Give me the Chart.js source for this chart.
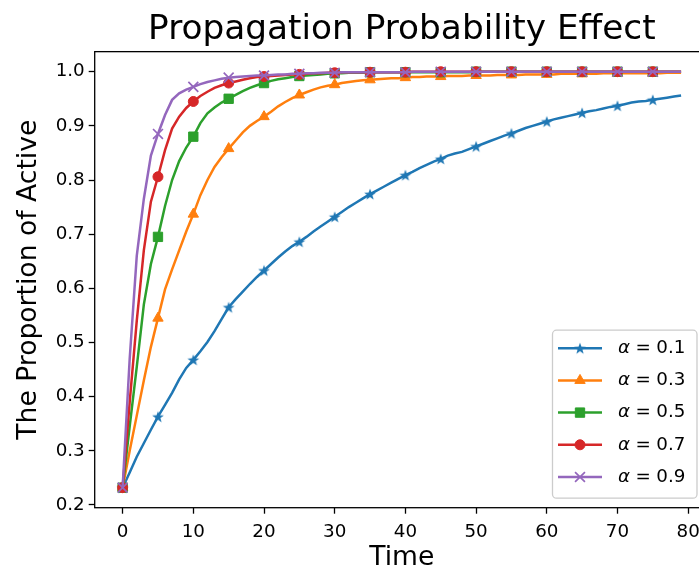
<!DOCTYPE html>
<html lang="en">
<head>
<meta charset="UTF-8">
<title>Propagation Probability Effect</title>
<script src="https://cdn.jsdelivr.net/npm/chart.js"></script>
<style>
  body { margin: 0; background: #fff; }
  #wrap { width: 699px; height: 571px; overflow: hidden; }
</style>
</head>
<body>
<div id="wrap"><canvas id="myChart" width="720" height="571"></canvas></div>
<script>
// time steps 0..79, markers every 5 steps
const timeSteps = [
  0, 1, 2, 3, 4, 5, 6, 7, 8, 9, 10, 11, 12, 13, 14, 15, 16, 17, 18, 19,
  20, 21, 22, 23, 24, 25, 26, 27, 28, 29, 30, 31, 32, 33, 34, 35, 36, 37, 38, 39,
  40, 41, 42, 43, 44, 45, 46, 47, 48, 49, 50, 51, 52, 53, 54, 55, 56, 57, 58, 59,
  60, 61, 62, 63, 64, 65, 66, 67, 68, 69, 70, 71, 72, 73, 74, 75, 76, 77, 78, 79
];

const alphaLabels = ['0.1', '0.3', '0.5', '0.7', '0.9'];

const alpha01 = [
  .232, .260, .289, .314, .339, .363, .385, .407, .432, .453,
  .468, .484, .501, .521, .543, .565, .580, .594, .608, .621,
  .633, .645, .657, .668, .678, .686, .695, .705, .714, .723,
  .732, .741, .750, .758, .766, .774, .781, .788, .795, .802,
  .809, .815, .822, .828, .834, .839, .845, .849, .852, .857,
  .862, .867, .872, .877, .882, .886, .891, .896, .900, .904,
  .908, .912, .915, .918, .921, .924, .927, .929, .932, .935,
  .937, .940, .943, .945, .946, .948, .950, .952, .954, .956
];
const alpha03 = [
  .232, .300, .365, .430, .492, .545, .598, .635, .670, .705,
  .737, .772, .800, .824, .842, .858, .873, .888, .900, .909,
  .917, .926, .936, .944, .951, .957, .962, .967, .971, .974,
  .976, .979, .981, .983, .984, .985, .986, .987, .988, .988,
  .989, .990, .990, .991, .991, .991, .992, .992, .992, .993,
  .993, .993, .993, .994, .994, .994, .994, .995, .995, .995,
  .995, .995, .996, .996, .996, .996, .996, .996, .997, .997,
  .997, .997, .997, .997, .997, .997, .997, .998, .998, .998
];
const alpha05 = [
  .232, .345, .455, .570, .645, .695, .752, .800, .835, .860,
  .880, .905, .923, .934, .943, .950, .957, .964, .970, .975,
  .979, .983, .986, .988, .990, .992, .993, .994, .995, .996,
  .997, .997, .998, .998, .998, .999, .999, .999, .999, .999,
  .999, .999, .999, .999, .999, .999, .999, .999, .999, .999,
  1.0, 1.0, 1.0, 1.0, 1.0, 1.0, 1.0, 1.0, 1.0, 1.0,
  1.0, 1.0, 1.0, 1.0, 1.0, 1.0, 1.0, 1.0, 1.0, 1.0,
  1.0, 1.0, 1.0, 1.0, 1.0, 1.0, 1.0, 1.0, 1.0, 1.0
];
const alpha07 = [
  .232, .390, .540, .670, .760, .806, .855, .895, .917, .933,
  .945, .955, .963, .970, .975, .979, .982, .985, .988, .990,
  .991, .992, .993, .994, .995, .995, .996, .997, .997, .998,
  .998, .999, .999, .999, .999, .999, .999, .999, .999, .999,
  .999, 1.0, 1.0, 1.0, 1.0, 1.0, 1.0, 1.0, 1.0, 1.0,
  1.0, 1.0, 1.0, 1.0, 1.0, 1.0, 1.0, 1.0, 1.0, 1.0,
  1.0, 1.0, 1.0, 1.0, 1.0, 1.0, 1.0, 1.0, 1.0, 1.0,
  1.0, 1.0, 1.0, 1.0, 1.0, 1.0, 1.0, 1.0, 1.0, 1.0
];
const alpha09 = [
  .232, .470, .660, .765, .845, .885, .920, .948, .960, .967,
  .972, .977, .981, .984, .987, .989, .990, .991, .992, .993,
  .993, .994, .995, .995, .996, .996, .997, .997, .998, .998,
  .998, .999, .999, .999, .999, .999, .999, .999, .999, .999,
  .999, 1.0, 1.0, 1.0, 1.0, 1.0, 1.0, 1.0, 1.0, 1.0,
  1.0, 1.0, 1.0, 1.0, 1.0, 1.0, 1.0, 1.0, 1.0, 1.0,
  1.0, 1.0, 1.0, 1.0, 1.0, 1.0, 1.0, 1.0, 1.0, 1.0,
  1.0, 1.0, 1.0, 1.0, 1.0, 1.0, 1.0, 1.0, 1.0, 1.0
];

const xTicks = [0, 10, 20, 30, 40, 50, 60, 70, 80];
const yTicks = [0.2, 0.3, 0.4, 0.5, 0.6, 0.7, 0.8, 0.9, 1.0];

const FONT = 'DejaVu Sans';

// matplotlib-like filled star marker
function starMarker(color) {
  const c = document.createElement('canvas');
  c.width = 14; c.height = 14;
  const g = c.getContext('2d');
  g.beginPath();
  for (let i = 0; i < 10; i++) {
    const r = i % 2 === 0 ? 6.2 : 2.5;
    const a = -Math.PI / 2 + i * Math.PI / 5;
    const px = 7 + r * Math.cos(a), py = 7.6 + r * Math.sin(a);
    if (i === 0) g.moveTo(px, py); else g.lineTo(px, py);
  }
  g.closePath();
  g.fillStyle = color;
  g.fill();
  return c;
}

const seriesStyle = [
  { color: '#1f77b4', marker: starMarker('#1f77b4'), r: 5, bw: 1 },
  { color: '#ff7f0e', marker: 'triangle', r: 6, bw: 1 },
  { color: '#2ca02c', marker: 'rect', r: 6.6, bw: 1 },
  { color: '#d62728', marker: 'circle', r: 5, bw: 1 },
  { color: '#9467bd', marker: 'crossRot', r: 7, bw: 1.7 }
];

const seriesValues = [alpha01, alpha03, alpha05, alpha07, alpha09];

const datasets = seriesValues.map((vals, i) => {
  const s = seriesStyle[i];
  return {
    label: 'α = ' + alphaLabels[i],
    data: vals.map((v, k) => ({ x: timeSteps[k], y: v })),
    borderColor: s.color,
    backgroundColor: s.color,
    borderWidth: 2.5,
    pointStyle: s.marker,
    pointRadius: ctx => (ctx.dataIndex % 5 === 0 ? s.r : 0),
    pointHoverRadius: 0,
    pointBorderWidth: s.bw,
    pointBorderColor: s.color,
    pointBackgroundColor: s.color,
    fill: false,
    tension: 0,
    order: 5 - i
  };
});

// axes box (all four spines) and legend in the lower right corner
const framePlugin = {
  id: 'frame',
  afterDraw(chart) {
    const { ctx, chartArea: a } = chart;
    ctx.save();
    ctx.strokeStyle = '#000';
    ctx.lineWidth = 1.3;
    ctx.strokeRect(a.left, a.top, a.right - a.left, a.bottom - a.top);

    // legend
    const w = 144.5, h = 168;
    const x0 = a.right - 12 - w;
    const y0 = a.bottom - 9.5 - h;
    const rad = 4;
    ctx.beginPath();
    ctx.moveTo(x0 + rad, y0);
    ctx.lineTo(x0 + w - rad, y0);
    ctx.arcTo(x0 + w, y0, x0 + w, y0 + rad, rad);
    ctx.lineTo(x0 + w, y0 + h - rad);
    ctx.arcTo(x0 + w, y0 + h, x0 + w - rad, y0 + h, rad);
    ctx.lineTo(x0 + rad, y0 + h);
    ctx.arcTo(x0, y0 + h, x0, y0 + h - rad, rad);
    ctx.lineTo(x0, y0 + rad);
    ctx.arcTo(x0, y0, x0 + rad, y0, rad);
    ctx.closePath();
    ctx.fillStyle = 'rgba(255,255,255,0.8)';
    ctx.fill();
    ctx.strokeStyle = '#cccccc';
    ctx.lineWidth = 1.3;
    ctx.stroke();

    chart.data.datasets.forEach((ds, i) => {
      const s = seriesStyle[i];
      const cy = y0 + 18 + i * 32.2;
      ctx.strokeStyle = s.color;
      ctx.lineWidth = 2.5;
      ctx.beginPath();
      ctx.moveTo(x0 + 5.5, cy);
      ctx.lineTo(x0 + 49.5, cy);
      ctx.stroke();
      ctx.fillStyle = s.color;
      ctx.lineWidth = s.bw;
      Chart.helpers.drawPoint(ctx, { pointStyle: s.marker, radius: s.r, borderWidth: s.bw, rotation: 0 }, x0 + 27.5, cy);

      ctx.fillStyle = '#000';
      ctx.textBaseline = 'middle';
      ctx.textAlign = 'left';
      let tx = x0 + 65.5;
      ctx.font = 'italic 18.3px "' + FONT + '"';
      ctx.fillText('α', tx, cy);
      tx += ctx.measureText('α').width + 5.5;
      ctx.font = '18.3px "' + FONT + '"';
      ctx.fillText('=', tx, cy);
      tx += ctx.measureText('=').width + 5.5;
      ctx.fillText(alphaLabels[i], tx, cy);
    });
    ctx.restore();
  }
};

const tickFont = { family: FONT, size: 18.3 };
const labelFont = { family: FONT, size: 26.6 };

new Chart(document.getElementById('myChart'), {
  type: 'line',
  data: { datasets: datasets },
  options: {
    responsive: false,
    animation: false,
    devicePixelRatio: 1,
    events: [],
    layout: { padding: { left: 0, right: 11, top: 0, bottom: 0 } },
    plugins: {
      legend: { display: false },
      tooltip: { enabled: false },
      title: {
        display: true,
        fullSize: false,
        text: 'Propagation Probability Effect',
        color: '#000',
        font: { family: FONT, size: 34.3, weight: 'normal', lineHeight: 1.15 },
        padding: { top: 10, bottom: 2.2 }
      }
    },
    scales: {
      x: {
        type: 'linear',
        min: -3.95,
        max: 82.95,
        afterBuildTicks: s => { s.ticks = xTicks.map(v => ({ value: v })); },
        afterFit: s => { s.height = 63.3; },
        ticks: { color: '#000', font: tickFont, padding: 8, maxRotation: 0, autoSkip: false, callback: v => String(v) },
        grid: { drawOnChartArea: false, drawTicks: true, tickLength: 6, tickColor: '#000', tickWidth: 1.3 },
        border: { display: false },
        title: { display: true, text: 'Time', color: '#000', font: { family: FONT, size: 26.6, lineHeight: 0.95 }, padding: { top: 0, bottom: 0 } }
      },
      y: {
        type: 'linear',
        min: 0.195,
        max: 1.037,
        afterBuildTicks: s => { s.ticks = yTicks.map(v => ({ value: v })); },
        afterFit: s => { s.width = 94.7; },
        ticks: { color: '#000', font: tickFont, padding: 4, autoSkip: false, callback: v => v.toFixed(1) },
        grid: { drawOnChartArea: false, drawTicks: true, tickLength: 6, tickColor: '#000', tickWidth: 1.3 },
        border: { display: false },
        title: { display: true, text: 'The Proportion of Active', color: '#000', font: labelFont, padding: { top: 13, bottom: 0 } }
      }
    }
  },
  plugins: [framePlugin]
});
</script>
</body>
</html>
